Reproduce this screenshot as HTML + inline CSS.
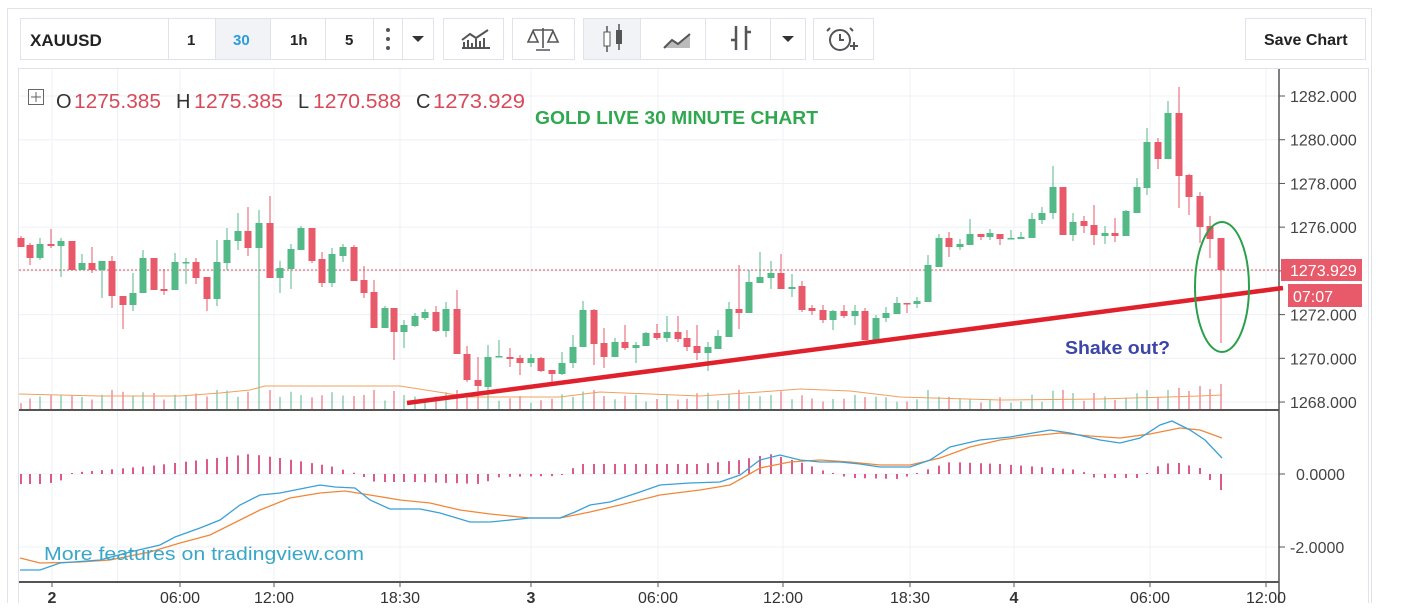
<!DOCTYPE html>
<html><head><meta charset="utf-8"><style>
body{margin:0;background:#fff;width:1401px;height:603px;overflow:hidden;font-family:"Liberation Sans",sans-serif}
</style></head><body>
<svg id="s" width="1401" height="603" xmlns="http://www.w3.org/2000/svg" font-family="Liberation Sans, sans-serif"></svg>
<script>
var S=document.getElementById('s');var o='';
function R(x,y,w,h,f,st){o+='<rect x="'+x+'" y="'+y+'" width="'+w+'" height="'+h+'" fill="'+f+'"'+(st?' stroke="'+st+'"':'')+'/>';}
function L(x1,y1,x2,y2,c,w,ex){o+='<line x1="'+x1+'" y1="'+y1+'" x2="'+x2+'" y2="'+y2+'" stroke="'+c+'" stroke-width="'+(w||1)+'" '+(ex||'')+'/>';}
function T(x,y,t,sz,c,ex){o+='<text x="'+x+'" y="'+y+'" font-size="'+sz+'" fill="'+c+'" '+(ex||'')+'>'+t+'</text>';}
R(7.5,8.5,1364,600,'#fff','#e0e3eb');
R(20.5,18.5,413,41,'#fff','#e0e3eb');R(215,19,55,40,'#f1f3f6');
[168,215,270,325,373,402].forEach(function(x){L(x+.5,19,x+.5,59,'#e0e3eb');});
T(30,46,'XAUUSD',17,'#222','font-weight="bold"');T(187,45,'1',15,'#222','font-weight="bold"');T(233,45,'30',15,'#2d9cdb','font-weight="bold"');
T(290,45,'1h',15,'#222','font-weight="bold"');T(345,45,'5',15,'#222','font-weight="bold"');
[30,39,48].forEach(function(y){o+='<circle cx="388" cy="'+y+'" r="2" fill="#555"/>';});
o+='<path d="M412 36 h12 l-6 6z" fill="#333"/>';
[[443,503],[512,574],[583,805],[813,873]].forEach(function(b){R(b[0]+.5,18.5,b[1]-b[0],41,'#fff','#e0e3eb');});
R(584,19,56,40,'#f1f3f6');[640,705,770].forEach(function(x){L(x+.5,19,x+.5,59,'#e0e3eb');});
o+='<path d="M462 48 h28 M464 47 v-5 M468 47 v-7 M472 47 v-4 M476 47 v-8 M480 47 v-6 M484 47 v-9 M462 40 l8-6 l6 4 l12-8" stroke="#555" stroke-width="2" fill="none"/>';
o+='<path d="M543 28 v20 M533 30 h20 M528 42 l5-11 l5 11 z M548 42 l5-11 l5 11z M536 50 h14" stroke="#555" stroke-width="1.6" fill="none"/>';
o+='<path d="M607 26 v26 M619 24 v26" stroke="#555" stroke-width="1.5"/><rect x="604" y="32" width="6" height="14" fill="#fff" stroke="#555"/><rect x="616" y="30" width="6" height="14" fill="#555"/>';
o+='<path d="M664 48 l8-8 l6 4 l12-10 v14 z" fill="#bbb"/><path d="M664 48 l8-8 l6 4 l12-10" stroke="#555" stroke-width="2" fill="none"/>';
o+='<path d="M736 26 v24 M736 40 h-5 M746 26 v24 M746 32 h5" stroke="#555" stroke-width="2.5" fill="none"/><path d="M782 36 h12 l-6 6z" fill="#333"/>';
o+='<circle cx="840" cy="40" r="10" fill="none" stroke="#555" stroke-width="2"/><path d="M840 34 v6 h4 M850 46 h8 M854 42 v8 M830 28 l-3 3 M850 28 l3 3" stroke="#555" stroke-width="2" fill="none"/>';
R(1245.5,18.5,120,41,'#fff','#e0e3eb');T(1264,45,'Save Chart',16,'#222','font-weight="bold"');
R(18.5,68.5,1350,540,'#fff','#e0e3eb');
[52,180,274,400,531,658,783,910,1014,1150,1266].forEach(function(x){L(x,69,x,582,'#edf0f5');});
L(117.5,69,117.5,582,'#edf0f5');
var py=function(p){return 96+(1282-p)*21.86;};
for(var p=1268;p<=1282;p+=2){var y=py(p);L(19,y,1279,y,'#edf0f5');L(1279,y,1285,y,'#555');T(1290,y+6,p+'.000',16,'#444');}
L(19,474,1279,474,'#edf0f5');L(19,547,1279,547,'#edf0f5');
L(1279,474,1285,474,'#555');L(1279,547,1285,547,'#555');
T(1296,480,'0.0000',16,'#444');T(1290,553,'-2.0000',16,'#444');
L(19,270,1279,270,'#e05060',1,'stroke-dasharray="2,2"');
var C=[[21,'R',238,247,236,247],[30,'R',245,258,243,265],[40,'G',244,258,238,260],[51,'R',244,246,229,248],[61,'G',241,246,238,277],[72,'R',241,270,241,270],[82,'G',263,270,254,270],[92,'R',263,270,247,273],[102,'G',261,270,261,298],[112,'R',261,296,256,308],[123,'R',296,305,296,329],[133,'G',293,305,273,311],[143,'G',258,293,250,293],[154,'R',258,290,258,290],[164,'R',289,291,269,295],[175,'G',262,290,253,290],[186,'G',262,263,258,284],[196,'R',262,278,258,284],[207,'R',277,299,277,311],[217,'G',262,299,240,306],[227,'G',240,263,228,270],[238,'G',231,241,213,250],[248,'R',231,248,207,256],[259,'G',223,248,210,313],[270,'R',223,278,196,278],[280,'G',268,278,261,293],[291,'G',249,269,244,289],[301,'G',228,250,226,250],[312,'R',228,261,228,263],[322,'R',259,283,252,287],[332,'G',254,283,248,287],[343,'G',247,256,244,262],[354,'R',247,281,245,281],[364,'R',280,293,266,298],[374,'R',292,328,280,328],[385,'G',308,328,306,328],[394,'R',308,332,308,360],[404,'G',325,332,320,348],[415,'G',316,326,313,327],[425,'G',312,318,309,320],[436,'R',312,331,306,332],[446,'G',309,331,302,337],[457,'R',309,354,290,354],
[467,'R',354,380,346,382],[478,'R',380,386,357,392],[488,'G',357,387,345,392],[499,'G',356,357,340,357],[510,'R',357,359,348,367],[520,'R',358,363,355,375],[531,'G',358,363,354,367],[541,'R',358,371,357,372],[552,'R',370,374,370,383],[562,'G',363,374,352,375],[573,'G',347,363,335,368],[583,'G',310,347,301,347],[594,'R',310,344,309,365],[604,'R',343,357,328,368],[615,'G',342,357,338,357],[625,'R',342,348,325,350],[636,'G',345,348,342,363],[646,'G',333,346,332,346],[657,'R',333,338,324,340],[667,'G',332,338,316,342],[678,'R',332,339,316,342],[687,'R',338,347,330,351],[697,'R',346,353,325,360],[708,'G',347,353,342,371],[718,'G',336,349,330,349],[729,'G',309,337,302,337],[739,'R',309,313,265,329],[749,'G',282,313,270,313],[760,'G',277,283,252,283],[771,'G',273,278,261,289],[781,'R',273,289,254,289],[792,'G',287,289,274,297],[802,'R',286,310,281,312],[812,'R',308,311,305,315],[823,'R',310,320,305,323],[833,'G',311,320,310,330],[844,'R',311,316,305,318],[855,'G',311,316,305,325],[865,'R',311,340,308,340],[876,'G',318,340,315,340],[886,'G',313,318,307,322],[897,'G',303,314,297,314],[907,'R',303,304,303,313],[917,'G',301,304,297,308],[928,'G',265,302,255,302],
[939,'G',238,267,234,267],[949,'R',238,247,232,257],[960,'G',244,247,239,250],[970,'G',234,245,219,245],[981,'R',234,237,234,240],[990,'G',233,237,229,240],[1000,'R',234,239,234,245],[1011,'G',238,239,230,239],[1021,'G',237,239,232,239],[1032,'G',219,238,213,238],[1042,'G',213,220,207,224],[1053,'G',187,213,166,219],[1063,'R',187,235,187,235],[1073,'G',222,235,213,241],[1084,'R',221,226,216,233],[1094,'R',225,235,205,245],[1105,'G',233,236,226,244],[1115,'R',233,236,218,242],[1126,'G',211,236,210,236],[1137,'G',187,213,178,213],[1147,'G',142,188,128,195],[1158,'R',142,159,138,169],[1168,'G',113,159,101,159],[1179,'R',113,176,87,208],[1189,'R',175,197,174,215],[1200,'R',196,227,192,243],[1210,'R',226,239,216,258],[1221,'R',238,270,238,343]];
var col={R:'#e85a6a',G:'#53b987'};
C.forEach(function(c,i){var h=3+Math.min(16,(c[5]-c[4])*0.25+((i*37)%7));if(c[0]==259)h=96;if(c[0]>1170)h=18+((i*13)%8);L(c[0],409,c[0],409-h,col[c[1]],1);});
o+='<polyline points="19,394 100,396 180,396 220,393 250,390 265,386 400,386 470,397 560,397 600,392 700,396 760,392 800,389 850,391 900,397 1000,400 1100,399 1200,396 1222,395" fill="none" stroke="#f0a060" stroke-width="1"/>';
C.forEach(function(c){var cl=col[c[1]];L(c[0],c[4],c[0],c[5],cl,1);R(c[0]-3.5,c[2],7,Math.max(1.5,c[3]-c[2]),cl);});
L(19,410,1279,410,'#555',2);L(1279,69,1279,603,'#555',1.5);
L(19,582,1279,582,'#555',2);
var hp=[[21,-10],[40,-10],[60,-8],[65,0],[80,2],[150,8],[200,14],[250,20],[280,16],[330,8],[355,1],[375,-8],[420,-8],[480,-10],[500,-3],[560,-2],[580,10],[700,10],[740,14],[770,20],[800,12],[830,1],[850,-4],[900,-5],[920,2],[950,12],[1000,10],[1080,4],[1095,-4],[1140,-4],[1160,9],[1175,12],[1200,6],[1210,-6],[1221,-16]];
function hv(x){for(var k=1;k<hp.length;k++){if(x<=hp[k][0]){var a=hp[k-1],b=hp[k];return a[1]+(b[1]-a[1])*(x-a[0])/(b[0]-a[0]);}}return 0;}
C.forEach(function(c){var v=hv(c[0]);if(Math.abs(v)<1)v=v<0?-1:1;L(c[0],474,c[0],474-v,'#d6306e',1.6);});
o+='<polyline points="20,558 40,563 80,562 110,560 150,552 180,543 210,535 240,520 260,510 290,498 320,493 345,491 370,495 400,500 430,503 460,510 490,514 530,518 560,518 590,512 620,505 660,495 700,490 730,485 760,468 790,462 820,460 850,462 880,465 910,465 940,458 970,447 1000,440 1030,436 1060,433 1090,436 1120,438 1150,434 1180,428 1200,430 1222,438" fill="none" stroke="#f0883a" stroke-width="1.3"/>';
o+='<polyline points="20,570 40,570 60,563 100,560 130,552 160,545 175,537 200,528 220,520 240,505 260,495 280,493 300,489 320,485 335,487 355,488 370,500 390,509 420,509 440,513 470,522 490,522 530,518 560,518 575,512 590,505 610,502 640,492 660,485 690,483 720,482 740,475 760,460 780,455 800,460 820,462 840,462 860,464 880,467 910,467 930,460 950,447 980,440 1010,437 1050,430 1070,433 1100,440 1120,443 1140,438 1160,425 1172,421 1190,430 1205,440 1222,458" fill="none" stroke="#3ba0d8" stroke-width="1.3"/>';
L(407,403,1283,288,'#e0202a',4.5);
o+='<ellipse cx="1222" cy="287" rx="27" ry="65" fill="none" stroke="#2aa04a" stroke-width="2"/>';
T(535,124,'GOLD LIVE 30 MINUTE CHART',18,'#2fa84f','font-weight="bold" textLength="283" lengthAdjust="spacingAndGlyphs"');
T(1065,354,'Shake out?',18,'#3c45a8','font-weight="bold" textLength="105" lengthAdjust="spacingAndGlyphs"');
T(44,560,'More features on tradingview.com',18,'#3aa6c8','textLength="320" lengthAdjust="spacingAndGlyphs"');
o+='<rect x="28.5" y="89.5" width="15" height="15" fill="none" stroke="#666"/><path d="M31 97 h10 M36 92 v10" stroke="#666"/>';
var lg=[['O',56,74,87,'1275.385'],['H',176,194,89,'1275.385'],['L',298,313,88,'1270.588'],['C',416,433,92,'1273.929']];
lg.forEach(function(g){T(g[1],108,g[0],20,'#333');T(g[2],108,g[4],20,'#d84a5a','textLength="'+g[3]+'" lengthAdjust="spacingAndGlyphs"');});
R(1281,259,81,22,'#e85a6a');T(1290,276,'1273.929',16,'#fff');
R(1288,284,74,23,'#e85a6a');T(1293,302,'07:07',16,'#fff');
[[52,'2',1],[180,'06:00'],[274,'12:00'],[400,'18:30'],[531,'3',1],[658,'06:00'],[783,'12:00'],[910,'18:30'],[1014,'4',1],[1150,'06:00'],[1266,'12:00']].forEach(function(t){L(t[0],582,t[0],587,'#555');T(t[0],603,t[1],16,'#333','text-anchor="middle"'+(t[2]?' font-weight="bold"':''));});
S.innerHTML=o;
</script>
</body></html>
